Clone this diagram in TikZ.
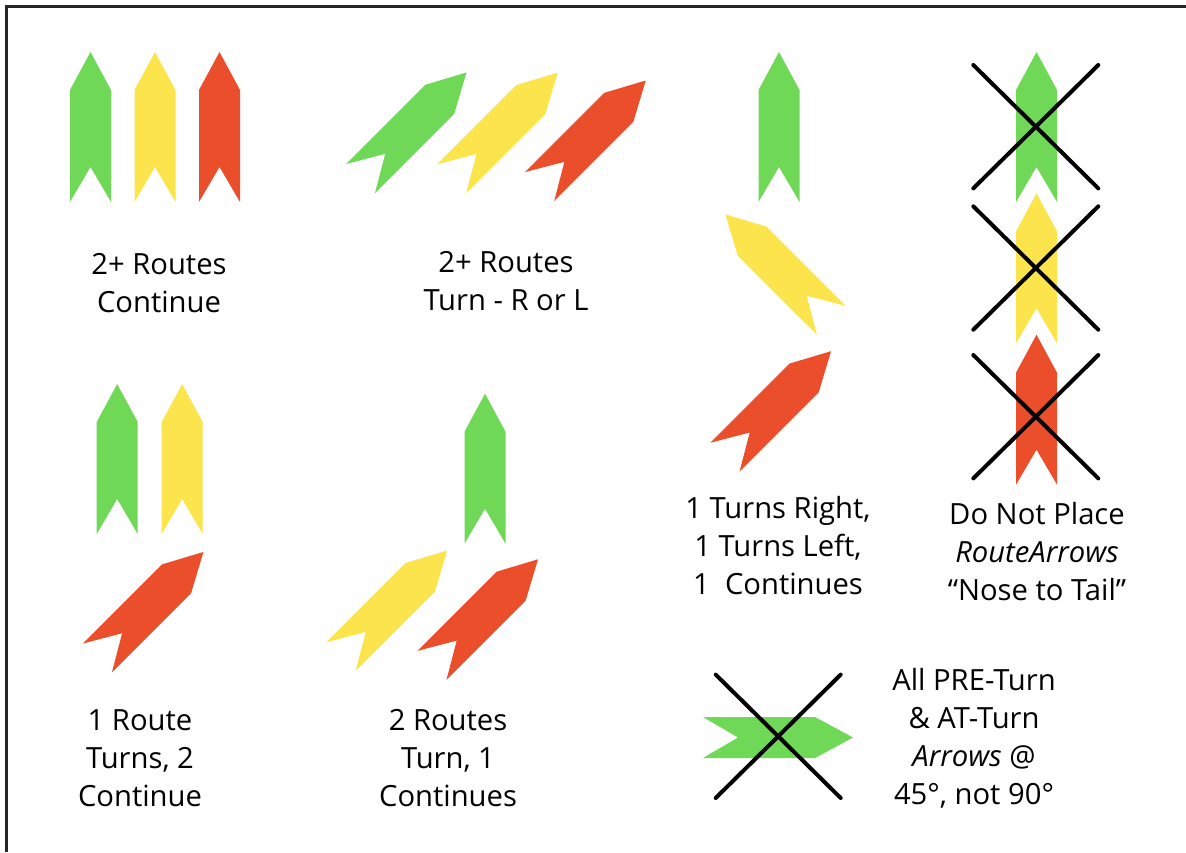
\documentclass[tikz,border=0pt]{standalone}
\usepackage{fontspec}
\setmainfont{Open Sans}
\definecolor{rgreen}{HTML}{6FD857}
\definecolor{ryellow}{HTML}{FBE44C}
\definecolor{rred}{HTML}{EB4E2A}
\tikzset{
  rarrow/.pic={\fill[pic actions] (0,-75) -- (20.5,-37) -- (20.5,75) -- (0,40) -- (-20.5,75) -- (-20.5,-37) -- cycle;},
  xcross/.pic={\draw[line width=2pt, line cap=round, black] (-62.5,-61.7) -- (62.5,61.7) (-62.5,61.7) -- (62.5,-61.7);},
  lbl/.style={align=center, font=\fontsize{14.6}{19}\selectfont, inner sep=0pt},
  frame/.style={line width=1.2pt, draw=black!85}
}
\begin{document}
\begin{tikzpicture}[x=0.5pt, y=-0.5pt]
\useasboundingbox (0,0) rectangle (1186,852);
\draw[frame] (6.3,852) -- (6.3,6.3) -- (1186,6.3);
% 2+ Routes Continue
\pic[fill=rgreen] at (90.5,127) {rarrow};
\pic[fill=ryellow] at (155,127) {rarrow};
\pic[fill=rred] at (219.5,127) {rarrow};
\node[lbl] (t1) at (159,283) {2+ Routes\\Continue};
% 2+ Routes Turn
\pic[fill=rgreen, rotate=-45] at (413.5,125.5) {rarrow};
\pic[fill=ryellow, rotate=-45] at (504.7,125.7) {rarrow};
\pic[fill=rred, rotate=-45] at (592.7,133.5) {rarrow};
\node[lbl] (t2) at (506,281) {2+ Routes\\Turn - R or L};
% 1 right 1 left 1 continues
\pic[fill=rgreen] at (779,127) {rarrow};
\pic[fill=ryellow, rotate=45] at (778.4,267.4) {rarrow};
\pic[fill=rred, rotate=-45] at (778,404.2) {rarrow};
\node[lbl] (t3) at (778,546) {1 Turns Right,\\1 Turns Left,\\1\ \ Continues};
% nose to tail
\pic[fill=rgreen] at (1036.5,127) {rarrow};
\pic[fill=ryellow] at (1036.5,268.3) {rarrow};
\pic[fill=rred] at (1036.5,409.7) {rarrow};
\pic at (1035.8,126.7) {xcross};
\pic at (1035.8,268) {xcross};
\pic at (1035.8,416.7) {xcross};
\node[lbl] (t4) at (1037,552) {Do Not Place\\\textit{RouteArrows}\\“Nose to Tail”};
% 1 route turns 2 continue
\pic[fill=rgreen] at (117.2,459) {rarrow};
\pic[fill=ryellow] at (182.2,459) {rarrow};
\pic[fill=rred, rotate=-45] at (150.4,605) {rarrow};
\node[lbl] (t5) at (140,758) {1 Route\\Turns, 2\\Continue};
% 2 routes turn 1 continues
\pic[fill=rgreen] at (485,468.7) {rarrow};
\pic[fill=ryellow, rotate=-45] at (394.1,603.6) {rarrow};
\pic[fill=rred, rotate=-45] at (485,612.3) {rarrow};
\node[lbl] (t6) at (448,758) {2 Routes\\Turn, 1\\Continues};
% 45 not 90
\pic[fill=rgreen, rotate=-90] at (778,737.5) {rarrow};
\pic at (778.2,736.3) {xcross};
\node[lbl] (t7) at (974,738) {All PRE-Turn\\\& AT-Turn\\\textit{Arrows} @\\45°, not 90°};
\end{tikzpicture}
\end{document}
